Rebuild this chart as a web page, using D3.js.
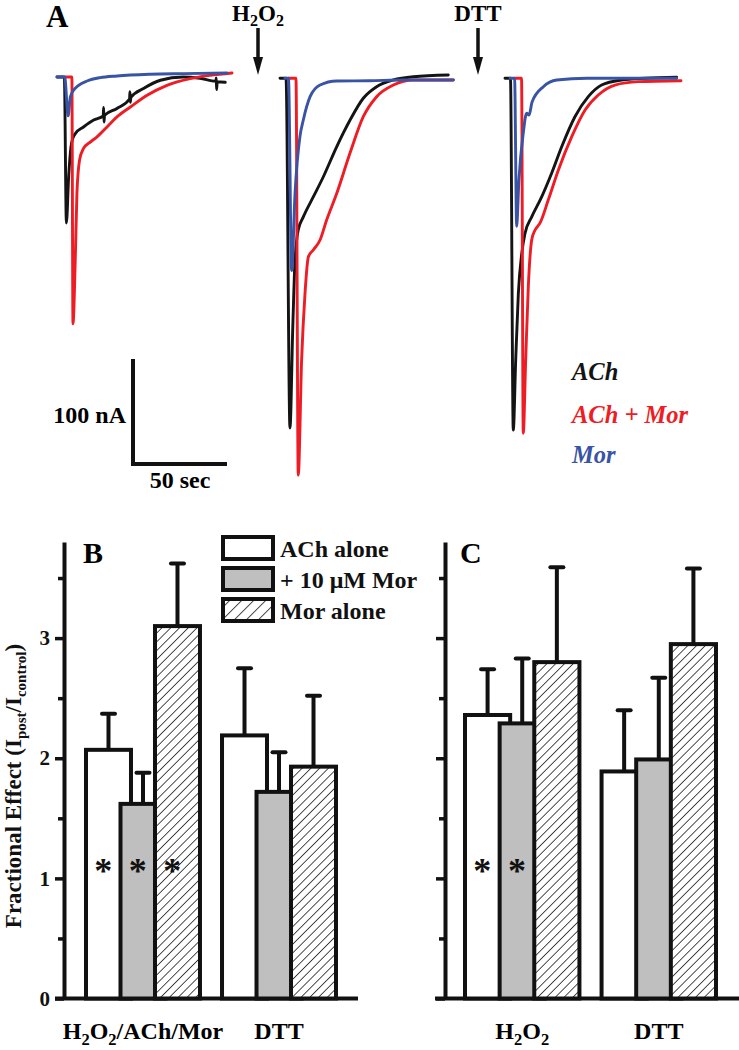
<!DOCTYPE html>
<html><head><meta charset="utf-8">
<script src="https://cdn.jsdelivr.net/npm/d3@7"></script>
<style>body{margin:0;background:#fff}svg{display:block}</style>
</head><body>
<svg id="fig" width="739" height="1050"></svg>
<script>
// ================= DATA =================
// Panel A: current traces, [time (s), current (nA)]
const traceLabels = ["ACh", "ACh + Mor", "Mor"];
const treatmentMarks = ["H2O2", "DTT"];

const ctrlACh = [[0,0],[3.9,0],[5.0,-139],[6.2,-95],[7.4,-67],[8.5,-58],[9.7,-54],[14.1,-47.6],[19.5,-41],[24.6,-37],[24.8,-29],[25.0,-43],[25.3,-36.5],[31.9,-30],[38.6,-21],[38.8,-14],[39.0,-24],[39.3,-19.5],[46,-11],[55,-3.1],[67,0],[76,-1.2],[84.5,-4],[84.7,-1],[84.9,-12],[85.2,-4.5],[89.5,-5]];
const ctrlAChMor = [[4.5,0],[7.9,0],[8.5,-235],[9.7,-175],[10.6,-111],[12.0,-79],[14.1,-68],[17.7,-62],[21.3,-57],[26.6,-47.6],[31.9,-38],[39.0,-28.6],[47.9,-17.4],[58.5,-7.9],[70.9,-1.5],[81.5,1.6],[93.1,3.8]];
const ctrlMor = [[0,0],[4.1,0],[5.9,-37],[7.1,-19],[8.8,-12.7],[11.5,-7.9],[16,-3.8],[23,-0.6],[31.9,1],[49.6,2.6],[67.3,3.2],[90.4,3.8]];

const h2o2ACh = [[0,0],[3.2,0],[5.3,-333],[6.8,-237],[8.0,-173],[9.7,-144.5],[12.4,-132],[17.7,-113],[23.0,-94],[30.2,-65],[37.2,-40],[44.3,-19],[51.4,-8],[60.3,-1.6],[70.9,1.5],[89.5,3.1]];
const h2o2AChMor = [[4.6,0],[8.5,0],[9.7,-378],[11.5,-268],[13.3,-205],[15.1,-170],[17.7,-163.5],[21.3,-154],[24.8,-135],[30.2,-109.5],[37.2,-71.4],[44.3,-36.6],[51.4,-17.5],[60.3,-6.4],[70.9,-1.6],[92.2,-1.6]];
const h2o2Mor = [[2.6,0],[4.5,0],[6.2,-183],[8.0,-109.5],[10.6,-55.6],[12.4,-39.7],[16.0,-17.5],[21.3,-6.4],[30.2,-2.6],[47.9,-2.3],[65.6,-1.6],[92.2,-1.6]];

const dttACh = [[0,0],[2.9,0],[4.4,-335],[5.7,-268],[7.1,-205],[8.9,-167],[10.6,-148],[14.2,-132],[19.5,-113],[24.8,-90.5],[30.2,-65],[37.2,-36.6],[44.3,-17.5],[51.4,-6.4],[62.1,-1.6],[74.5,0],[91.3,1]];
const dttAChMor = [[5.3,0],[8.8,0],[9.7,-338],[11.0,-268],[12.4,-198.5],[14.2,-154],[16.0,-144.5],[18.6,-138],[23.0,-116],[28.4,-87.3],[35.5,-55.6],[42.6,-30.2],[49.6,-15.9],[58.5,-6.4],[70.9,-3.2],[93.6,-2.3]];
const dttMor = [[2.7,0],[5.1,0],[6.2,-141],[7.4,-97],[9.7,-52.4],[11.5,-33.3],[12.8,-35],[14.4,-22.6],[20.4,-8],[27.5,-1.6],[43.5,0],[91.3,0]];

const scaleBarCurrent = 100; // nA
const scaleBarTime = 50;     // s

// Panels B and C: fractional effect (mean, SEM)
const barSeries = ["ACh alone", "+ 10 \u03BCM Mor", "Mor alone"];
const catsB = ["H2O2/ACh/Mor", "DTT"];
const meanB_ACh = [2.07, 2.19];
const meanB_AChMor = [1.62, 1.72];
const meanB_Mor = [3.10, 1.93];
const semB_ACh = [0.30, 0.56];
const semB_AChMor = [0.26, 0.33];
const semB_Mor = [0.52, 0.59];
const starsB = [[true, true, true], [false, false, false]];

const catsC = ["H2O2", "DTT"];
const meanC_ACh = [2.36, 1.89];
const meanC_AChMor = [2.29, 1.99];
const meanC_Mor = [2.80, 2.95];
const semC_ACh = [0.38, 0.51];
const semC_AChMor = [0.54, 0.68];
const semC_Mor = [0.79, 0.63];
const starsC = [[true, true, false], [false, false, false]];

const yMajorTicks = [0, 1, 2, 3];
const yMinorTicks = [0.5, 1.5, 2.5, 3.5];
const yLabelText = ["Fractional Effect (I", "post", "/I", "control", ")"];

// ================= DRAWING =================
const F = "'Liberation Serif','Times New Roman',Times,serif";
const COL = ["#141414", "#ee1d25", "#3953a5"];
const svg = d3.select("#fig");
const defs = svg.append("defs");

function hatch(id, gap, sw) {
  const p = defs.append("pattern").attr("id", id).attr("patternUnits", "userSpaceOnUse")
    .attr("width", gap).attr("height", gap).attr("patternTransform", "rotate(45)");
  p.append("rect").attr("width", gap).attr("height", gap).attr("fill", "#fff");
  p.append("line").attr("x1", 0).attr("y1", 0).attr("x2", 0).attr("y2", gap)
    .attr("stroke", "#111").attr("stroke-width", sw);
}
hatch("hatchBar", 6.2, 1.5);
hatch("hatchLeg", 8.5, 1.5);

function subText(sel, str, subSize, shift) {
  // digits are rendered as subscripts (chemical formulae)
  const parts = str.split(/(\d)/).filter(s => s.length);
  let lowered = false;
  parts.forEach(p => {
    const isSub = /^\d$/.test(p);
    const t = sel.append("tspan").text(p);
    if (isSub) { t.attr("font-size", subSize); if (!lowered) { t.attr("dy", shift); lowered = true; } }
    else if (lowered) { t.attr("dy", -shift); lowered = false; }
  });
}

// ---------- Panel A ----------
svg.append("text").attr("x", 46).attr("y", 27).attr("font-family", F).attr("font-weight", "bold")
  .attr("font-size", 31).text("A");

const xT = d3.scaleLinear().domain([0, scaleBarTime]).range([0, 94]);
const yT = d3.scaleLinear().domain([0, -scaleBarCurrent]).range([0, 105]);
const line = d3.line().x(d => xT(d[0])).y(d => yT(d[1])).curve(d3.curveMonotoneX);
const traceOrigins = [[57, 77], [280, 78.3], [505, 78.3]];
const traceSets = [[ctrlACh, ctrlAChMor, ctrlMor], [h2o2ACh, h2o2AChMor, h2o2Mor], [dttACh, dttAChMor, dttMor]];
traceSets.forEach((set, i) => {
  const g = svg.append("g").attr("transform", `translate(${traceOrigins[i][0]},${traceOrigins[i][1]})`);
  set.forEach((tr, j) => {
    g.append("path").attr("d", line(tr)).attr("fill", "none").attr("stroke", COL[j])
      .attr("stroke-width", 2.9).attr("stroke-linejoin", "round").attr("stroke-linecap", "round");
  });
});

// treatment arrows
const arrowX = [258, 478];
const markY = [21, 21];
treatmentMarks.forEach((m, i) => {
  const t = svg.append("text").attr("x", arrowX[i]).attr("y", markY[i]).attr("text-anchor", "middle")
    .attr("font-family", F).attr("font-weight", "bold").attr("font-size", 23);
  subText(t, m, 16, 5);
  svg.append("line").attr("x1", arrowX[i]).attr("x2", arrowX[i]).attr("y1", 28).attr("y2", 62)
    .attr("stroke", "#111").attr("stroke-width", 3.5);
  svg.append("path").attr("d", `M${arrowX[i]-5},57 L${arrowX[i]+5},57 L${arrowX[i]},75 Z`).attr("fill", "#111");
});

// scale bar
const sb = svg.append("g").attr("transform", "translate(133,359)");
sb.append("path").attr("d", `M0,0 V${yT(-scaleBarCurrent)} H${xT(scaleBarTime)}`)
  .attr("fill", "none").attr("stroke", "#111").attr("stroke-width", 4);
sb.append("text").attr("x", -7).attr("y", 64).attr("text-anchor", "end").attr("font-family", F)
  .attr("font-weight", "bold").attr("font-size", 24).text(scaleBarCurrent + " nA");
sb.append("text").attr("x", xT(scaleBarTime / 2)).attr("y", 129).attr("text-anchor", "middle").attr("font-family", F)
  .attr("font-weight", "bold").attr("font-size", 24).text(scaleBarTime + " sec");

// trace legend
const legY = [380, 423, 463];
traceLabels.forEach((l, i) => {
  svg.append("text").attr("x", 572).attr("y", legY[i]).attr("font-family", F).attr("font-weight", "bold")
    .attr("font-style", "italic").attr("font-size", 24.5).attr("fill", COL[i]).text(l);
});

// ---------- Panels B & C ----------
const y = d3.scaleLinear().domain([0, 3.8]).range([998.5, 542]);
const fills = ["#fff", "#bfbfbf", "url(#hatchBar)"];

function barPanel(o) {
  const g = svg.append("g");
  const x0 = d3.scaleBand().domain(o.cats).range(o.range).paddingInner(0.162).paddingOuter(0);
  const x1 = d3.scaleBand().domain(barSeries).range([0, x0.bandwidth()]).paddingInner(-0.304);
  // x axis baseline
  g.append("line").attr("x1", o.xAxis[0]).attr("x2", o.xAxis[1]).attr("y1", y(0)).attr("y2", y(0))
    .attr("stroke", "#111").attr("stroke-width", 4);
  // bars
  barSeries.forEach((s, si) => {
    o.cats.forEach((c, ci) => {
      const v = o.means[si][ci];
      g.append("rect").attr("x", x0(c) + x1(s)).attr("width", x1.bandwidth())
        .attr("y", y(v)).attr("height", y(0) - y(v)).attr("fill", fills[si])
        .attr("stroke", "#111").attr("stroke-width", 4);
    });
  });
  // error bars
  barSeries.forEach((s, si) => {
    o.cats.forEach((c, ci) => {
      const v = o.means[si][ci], e = o.sems[si][ci];
      const cx = x0(c) + x1(s) + x1.bandwidth() / 2;
      g.append("line").attr("x1", cx).attr("x2", cx).attr("y1", y(v)).attr("y2", y(v + e))
        .attr("stroke", "#111").attr("stroke-width", 4);
      g.append("line").attr("x1", cx - 6.5).attr("x2", cx + 6.5).attr("y1", y(v + e)).attr("y2", y(v + e))
        .attr("stroke", "#111").attr("stroke-width", 4).attr("stroke-linecap", "round");
      if (o.stars[ci][si]) {
        g.append("text").attr("x", x0(c) + x1(s) + x1.step() / 2).attr("y", y(1.1) + 17)
          .attr("text-anchor", "middle").attr("font-family", F).attr("font-weight", "bold")
          .attr("font-size", 36).attr("fill", "#111").text("*");
      }
    });
  });
  // y axis
  const ax = g.append("g").attr("transform", `translate(${o.yAxisX},0)`)
    .call(d3.axisLeft(y).tickValues(yMajorTicks).tickSize(9).tickSizeOuter(0).tickPadding(5)
      .tickFormat(o.tickLabels ? d3.format("d") : () => ""));
  ax.select(".domain").attr("stroke", "#111").attr("stroke-width", 4);
  ax.selectAll(".tick line").attr("stroke", "#111").attr("stroke-width", 3.5);
  ax.selectAll(".tick text").attr("font-family", F).attr("font-weight", "bold").attr("font-size", 21).attr("fill", "#111");
  const mx = g.append("g").attr("transform", `translate(${o.yAxisX},0)`)
    .call(d3.axisLeft(y).tickValues(yMinorTicks).tickSize(6).tickFormat(() => ""));
  mx.select(".domain").remove();
  mx.selectAll(".tick line").attr("stroke", "#111").attr("stroke-width", 3.5);
  // category labels
  o.cats.forEach(c => {
    const t = g.append("text").attr("x", x0(c) + x0.bandwidth() / 2).attr("y", 1039).attr("text-anchor", "middle")
      .attr("font-family", F).attr("font-weight", "bold").attr("font-size", 24);
    subText(t, c, 16.5, 6);
  });
  // panel letter
  g.append("text").attr("x", o.letterX).attr("y", 563).attr("font-family", F).attr("font-weight", "bold")
    .attr("font-size", 30).text(o.letter);
}

barPanel({cats: catsB, range: [86, 336], xAxis: [55, 358], yAxisX: 64, letter: "B", letterX: 83, tickLabels: true,
  means: [meanB_ACh, meanB_AChMor, meanB_Mor], sems: [semB_ACh, semB_AChMor, semB_Mor], stars: starsB});
barPanel({cats: catsC, range: [465, 716], xAxis: [435, 739], yAxisX: 445, letter: "C", letterX: 460, tickLabels: false,
  means: [meanC_ACh, meanC_AChMor, meanC_Mor], sems: [semC_ACh, semC_AChMor, semC_Mor], stars: starsC});

// bar legend
const legBoxY = [537, 568, 599];
const legFills = ["#fff", "#bfbfbf", "url(#hatchLeg)"];
barSeries.forEach((s, i) => {
  svg.append("rect").attr("x", 223).attr("y", legBoxY[i]).attr("width", 50).attr("height", 22)
    .attr("fill", legFills[i]).attr("stroke", "#111").attr("stroke-width", 4);
  svg.append("text").attr("x", 280).attr("y", legBoxY[i] + 20).attr("font-family", F).attr("font-weight", "bold")
    .attr("font-size", 24).attr("fill", "#111").text(s);
});

// y axis title
const yl = svg.append("text").attr("transform", "translate(21,786) rotate(-90)").attr("text-anchor", "middle")
  .attr("font-family", F).attr("font-weight", "bold").attr("font-size", 23).attr("fill", "#111");
yLabelText.forEach((p, i) => {
  const t = yl.append("tspan").text(p);
  if (i === 1 || i === 3) t.attr("font-size", 15).attr("dy", 5);
  else if (i > 0) t.attr("dy", -5);
});
</script>
</body></html>
